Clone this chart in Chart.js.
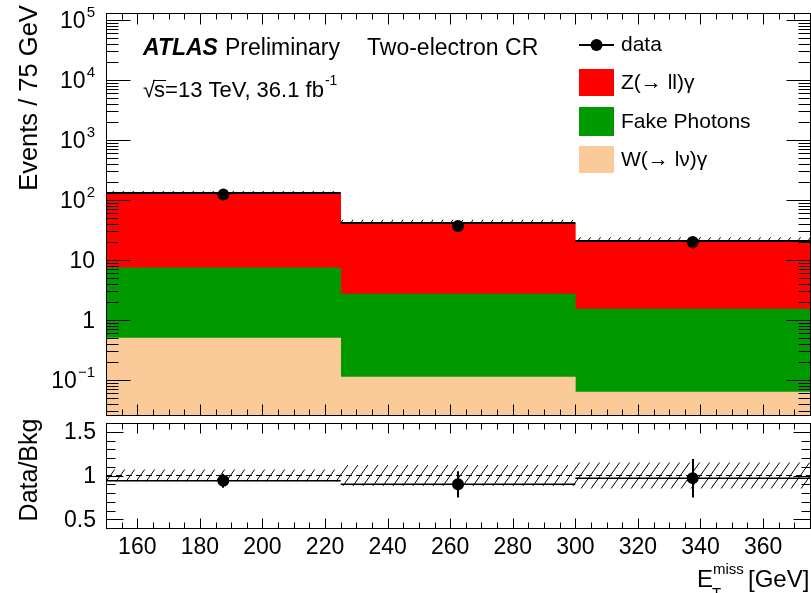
<!DOCTYPE html>
<html>
<head>
<meta charset="utf-8">
<script src="https://cdn.jsdelivr.net/npm/chart.js@4.4.1/dist/chart.umd.min.js"></script>
<style>
  html, body { margin: 0; padding: 0; background: #fff; overflow: hidden; width: 811px; height: 593px; }
  canvas { position: absolute; left: 0; top: 0; }
</style>
</head>
<body>
<canvas id="main" width="816" height="593"></canvas>
<canvas id="ratio" width="816" height="593"></canvas>
<script>
// E_T^miss binning [GeV]
const binEdges = [150, 225, 300, 375];

// Expected events per bin, stacked from bottom to top
const wgamma      = [0.50, 0.112, 0.063];
const fakePhotons = [6.9, 2.6, 1.46];
const zgamma      = [123.6, 38.7, 19.2];

// Observed events and their statistical errors
const dataCounts = [123, 37, 20];
const dataErrors = [11, 6, 4.5];

// Relative uncertainty of the total background
const bkgUncDown = [0.065, 0.115, 0.145];
const bkgUncUp   = [0.065, 0.115, 0.145];

// Data / background ratio and its error
const ratioValues = [0.94, 0.90, 0.97];
const ratioErrors = [0.08, 0.15, 0.22];

// Axis ticks
const xTickLabels = [160, 180, 200, 220, 240, 260, 280, 300, 320, 340, 360];
const yDecades = [-1, 0, 1, 2, 3, 4, 5];
const ratioTickLabels = [0.5, 1, 1.5];

// Legend entries
const seriesNames  = ['data', 'Z(\u2192 ll)\u03b3', 'Fake Photons', 'W(\u2192 l\u03bd)\u03b3'];
const seriesColors = ['#000000', '#ff0000', '#009900', '#facb98'];

const FONT = '"Liberation Sans", Arial, Helvetica, sans-serif';
Chart.defaults.font.family = FONT;

const centers = binEdges.slice(0, -1).map((e, i) => (e + binEdges[i + 1]) / 2);
const level1 = wgamma.slice();
const level2 = level1.map((v, i) => v + fakePhotons[i]);
const level3 = level2.map((v, i) => v + zgamma[i]);
const floorValue = 1e-3;

function floating(lo, hi) {
  return centers.map((c, i) => ({ x: c, y: [lo[i], hi[i]] }));
}
function steps(vals) {
  const out = [];
  vals.forEach((v, i) => {
    out.push({ x: binEdges[i], y: v }, { x: binEdges[i + 1], y: v }, { x: binEdges[i + 1], y: null });
  });
  return out;
}
function hatchPattern() {
  const w = 10, h = 14;
  const c = document.createElement('canvas');
  c.width = w; c.height = h;
  const g = c.getContext('2d');
  g.strokeStyle = '#000';
  g.lineWidth = 1;
  g.beginPath();
  g.moveTo(0, h); g.lineTo(w, 0);
  g.moveTo(-w, h); g.lineTo(0, 0);
  g.moveTo(w, h); g.lineTo(2 * w, 0);
  g.stroke();
  return g.createPattern(c, 'repeat');
}
const hatch = hatchPattern();

// vertical error bars, drawn just before the marker dataset
const errorBarPlugin = {
  id: 'errorBars',
  beforeDatasetDraw(chart, args) {
    const ds = chart.data.datasets[args.index];
    if (!ds.errorBars) return;
    const { ctx, chartArea: a, scales: { x, y } } = chart;
    ctx.save();
    ctx.beginPath();
    ctx.rect(a.left, a.top, a.right - a.left, a.bottom - a.top);
    ctx.clip();
    ctx.strokeStyle = '#000';
    ctx.lineWidth = 2;
    ds.data.forEach((p, i) => {
      const px = Math.round(x.getPixelForValue(p.x));
      const e = ds.errorBars[i];
      ctx.beginPath();
      ctx.moveTo(px, y.getPixelForValue(Math.max(p.y - e, 1e-6)));
      ctx.lineTo(px, y.getPixelForValue(p.y + e));
      ctx.stroke();
    });
    ctx.restore();
  }
};

function line(ctx, x1, y1, x2, y2) {
  ctx.beginPath(); ctx.moveTo(x1, y1); ctx.lineTo(x2, y2); ctx.stroke();
}

function drawFrameAndXTicks(chart, majorLen, minorLen) {
  const { ctx, chartArea: a, scales: { x } } = chart;
  ctx.strokeStyle = '#000';
  ctx.lineWidth = 1;
  const L = Math.round(a.left) + 0.5, T = Math.round(a.top) + 0.5;
  const R = Math.round(a.right) + 0.5, B = Math.round(a.bottom) + 0.5;
  ctx.strokeRect(L, T, R - L, B - T);
  for (let v = binEdges[0]; v <= binEdges[binEdges.length - 1]; v += 5) {
    const px = Math.round(x.getPixelForValue(v)) + 0.5;
    const len = v % 20 === 0 ? majorLen : minorLen;
    line(ctx, px, B, px, B - len);
    line(ctx, px, T, px, T + len);
  }
  return { L, T, R, B };
}

// ---------- main panel ----------
const mainDecor = {
  id: 'mainDecor',
  afterDraw(chart) {
    const { ctx, scales: { y } } = chart;
    ctx.save();
    const f = drawFrameAndXTicks(chart, 11, 6);
    // log ticks
    for (let k = -2; k <= 5; k++) {
      for (let m = 1; m <= 9; m++) {
        const v = m * Math.pow(10, k);
        if (v < y.min || v > y.max) continue;
        const py = Math.round(y.getPixelForValue(v)) + 0.5;
        const len = m === 1 ? 24 : 12;
        line(ctx, f.L, py, f.L + len, py);
        line(ctx, f.R, py, f.R - len, py);
      }
    }
    // y tick labels
    ctx.fillStyle = '#000';
    ctx.textBaseline = 'alphabetic';
    const rightEdge = 95;
    yDecades.forEach(k => {
      const py = y.getPixelForValue(Math.pow(10, k));
      const base = (k === 0) ? '1' : '10';
      const sup = (k === 0 || k === 1) ? '' : (k < 0 ? '\u2212' + (-k) : String(k));
      ctx.font = '15px ' + FONT;
      const sw = sup ? ctx.measureText(sup).width : 0;
      ctx.font = '23px ' + FONT;
      const bw = ctx.measureText(base).width;
      ctx.textAlign = 'left';
      ctx.fillText(base, rightEdge - sw - bw - (sup ? 1 : 0), py + 8);
      if (sup) {
        ctx.font = '15px ' + FONT;
        ctx.fillText(sup, rightEdge - sw, py - 3);
      }
    });
    // y title
    ctx.save();
    ctx.translate(30, 98);
    ctx.rotate(-Math.PI / 2);
    ctx.font = '25.5px ' + FONT;
    ctx.textAlign = 'center';
    ctx.textBaseline = 'middle';
    ctx.fillText('Events / 75 GeV', 0, 0);
    ctx.restore();

    // ATLAS label
    ctx.textAlign = 'left';
    ctx.textBaseline = 'alphabetic';
    ctx.font = 'italic bold 23px ' + FONT;
    ctx.fillText('ATLAS', 143, 55);
    ctx.font = '23px ' + FONT;
    ctx.fillText('Preliminary', 225, 55);
    ctx.fillText('Two-electron CR', 367, 55);
    // sqrt(s) line
    ctx.font = '22px ' + FONT;
    let cx = 143;
    ctx.fillText('\u221a', cx, 97);
    cx += ctx.measureText('\u221a').width - 1;
    ctx.fillText('s', cx, 97);
    const sW = ctx.measureText('s').width;
    ctx.lineWidth = 1;
    line(ctx, cx - 1, 80.5, cx + sW + 1, 80.5);
    cx += sW;
    const rest = '=13 TeV, 36.1 fb';
    ctx.fillText(rest, cx, 97);
    cx += ctx.measureText(rest).width;
    ctx.font = '14px ' + FONT;
    ctx.fillText('-1', cx + 1, 85);

    // legend
    const lx = 579, lw = 35, tx = 621;
    ctx.font = '21px ' + FONT;
    ctx.textBaseline = 'middle';
    ctx.strokeStyle = '#000';
    ctx.lineWidth = 2;
    line(ctx, lx, 45, lx + lw, 45);
    ctx.beginPath();
    ctx.arc(lx + lw / 2, 45, 6, 0, Math.PI * 2);
    ctx.fill();
    ctx.fillText(seriesNames[0], tx, 45);
    const boxes = [[69, 96], [107, 136], [146, 173]];
    boxes.forEach((b, i) => {
      ctx.fillStyle = seriesColors[i + 1];
      ctx.fillRect(lx, b[0], lw, b[1] - b[0]);
      ctx.fillStyle = '#000';
      ctx.fillText(seriesNames[i + 1], tx, (b[0] + b[1]) / 2 + 1);
    });
    ctx.restore();
  }
};

const barCommon = { barPercentage: 1, categoryPercentage: 1, grouped: false, borderWidth: 0 };

new Chart(document.getElementById('main'), {
  type: 'bar',
  data: {
    datasets: [
      Object.assign({ label: seriesNames[3], data: floating(centers.map(() => floorValue), level1),
        backgroundColor: seriesColors[3], order: 3 }, barCommon),
      Object.assign({ label: seriesNames[2], data: floating(level1, level2),
        backgroundColor: seriesColors[2], order: 3 }, barCommon),
      Object.assign({ label: seriesNames[1], data: floating(level2, level3),
        backgroundColor: seriesColors[1], order: 3 }, barCommon),
      Object.assign({ label: 'Uncertainty', data: floating(level3, level3.map((v, i) => v * (1 + bkgUncUp[i]))),
        backgroundColor: hatch, order: 2 }, barCommon),
      { type: 'line', label: 'Total', data: steps(level3), borderColor: '#000', borderWidth: 2,
        pointRadius: 0, spanGaps: false, fill: false, tension: 0, order: 1 },
      { type: 'scatter', label: seriesNames[0], data: centers.map((c, i) => ({ x: c, y: dataCounts[i] })),
        errorBars: dataErrors, pointRadius: 6, pointBackgroundColor: '#000', pointBorderWidth: 0, order: 0 }
    ]
  },
  options: {
    responsive: false,
    animation: false,
    events: [],
    layout: { padding: { left: 106, right: 4, top: 13, bottom: 178 } },
    plugins: { legend: { display: false }, tooltip: { enabled: false } },
    scales: {
      x: { type: 'linear', min: 150, max: 375, offset: false, display: false, ticks: { stepSize: 75 } },
      y: { type: 'logarithmic', min: 0.0261, max: 1.31e5, display: false }
    }
  },
  plugins: [errorBarPlugin, mainDecor]
});

// ---------- ratio panel ----------
const ratioDecor = {
  id: 'ratioDecor',
  afterDraw(chart) {
    const { ctx, scales: { x, y } } = chart;
    ctx.save();
    const f = drawFrameAndXTicks(chart, 10, 6);
    for (let i = 4; i <= 16; i++) {
      const v = i / 10;
      const py = Math.round(y.getPixelForValue(v)) + 0.5;
      const len = i % 5 === 0 ? 17 : 9;
      line(ctx, f.L, py, f.L + len, py);
      line(ctx, f.R, py, f.R - len, py);
    }
    ctx.fillStyle = '#000';
    ctx.font = '23px ' + FONT;
    ctx.textBaseline = 'middle';
    ctx.textAlign = 'right';
    ratioTickLabels.forEach(v => ctx.fillText(String(v), 96, y.getPixelForValue(v) + 1));
    ctx.textAlign = 'center';
    ctx.textBaseline = 'alphabetic';
    xTickLabels.forEach(v => ctx.fillText(String(v), x.getPixelForValue(v), 554));
    // y title
    ctx.save();
    ctx.translate(30, 470);
    ctx.rotate(-Math.PI / 2);
    ctx.font = '25px ' + FONT;
    ctx.textAlign = 'center';
    ctx.textBaseline = 'middle';
    ctx.fillText('Data/Bkg', 0, 0);
    ctx.restore();
    // x title
    ctx.textAlign = 'left';
    ctx.font = '24px ' + FONT;
    ctx.fillText('E', 697, 587);
    ctx.font = '15px ' + FONT;
    ctx.fillText('T', 712, 598);
    ctx.fillText('miss', 713, 574);
    ctx.font = '24px ' + FONT;
    ctx.fillText('[GeV]', 748, 587);
    ctx.restore();
  }
};

new Chart(document.getElementById('ratio'), {
  type: 'bar',
  data: {
    datasets: [
      Object.assign({ label: 'Uncertainty', data: floating(bkgUncDown.map(u => 1 - u), bkgUncUp.map(u => 1 + u)),
        backgroundColor: hatch, order: 3 }, barCommon),
      { type: 'line', label: 'Unity', data: [{ x: 150, y: 1 }, { x: 375, y: 1 }], borderColor: '#000',
        borderWidth: 1, borderDash: [6, 4], pointRadius: 0, fill: false, order: 2 },
      { type: 'line', label: 'Ratio', data: steps(ratioValues), borderColor: '#000', borderWidth: 1.5,
        pointRadius: 0, spanGaps: false, fill: false, tension: 0, order: 1 },
      { type: 'scatter', label: 'Data/Bkg', data: centers.map((c, i) => ({ x: c, y: ratioValues[i] })),
        errorBars: ratioErrors, pointRadius: 6, pointBackgroundColor: '#000', pointBorderWidth: 0, order: 0 }
    ]
  },
  options: {
    responsive: false,
    animation: false,
    events: [],
    layout: { padding: { left: 106, right: 4, top: 423, bottom: 65 } },
    plugins: { legend: { display: false }, tooltip: { enabled: false } },
    scales: {
      x: { type: 'linear', min: 150, max: 375, offset: false, display: false, ticks: { stepSize: 75 } },
      y: { type: 'linear', min: 0.4, max: 1.6, display: false }
    }
  },
  plugins: [errorBarPlugin, ratioDecor]
});
</script>
</body>
</html>
